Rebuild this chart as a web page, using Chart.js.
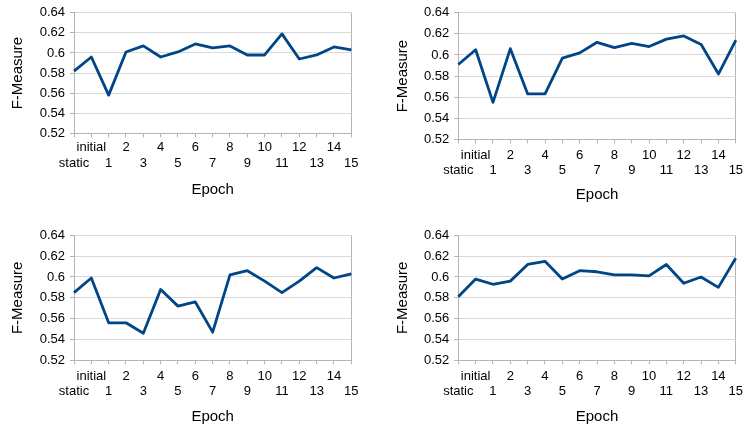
<!DOCTYPE html>
<html>
<head>
<meta charset="utf-8">
<script src="https://cdn.jsdelivr.net/npm/chart.js@4"></script>
<style>
  html, body { margin: 0; padding: 0; background: #ffffff; }
  #wrap { position: relative; width: 747px; height: 432px; overflow: hidden; }
  .panel { position: absolute; }
</style>
</head>
<body>
<div id="wrap">
  <div class="panel" style="left:0px;top:0px;width:375px;height:216px"><canvas id="c1"></canvas></div>
  <div class="panel" style="left:375px;top:0px;width:372px;height:216px"><canvas id="c2"></canvas></div>
  <div class="panel" style="left:0px;top:216px;width:375px;height:216px"><canvas id="c3"></canvas></div>
  <div class="panel" style="left:375px;top:216px;width:372px;height:216px"><canvas id="c4"></canvas></div>
</div>
<script>
// Epoch categories along the x axis
const epochs = ['static', 'initial', '1', '2', '3', '4', '5', '6', '7', '8', '9', '10', '11', '12', '13', '14', '15'];

// F-Measure per epoch, one array per panel
const fmeasureA = [0.582, 0.596, 0.558, 0.601, 0.607, 0.596, 0.601, 0.609, 0.605, 0.607, 0.598, 0.598, 0.619, 0.594, 0.598, 0.606, 0.603];
const fmeasureB = [0.591, 0.605, 0.555, 0.606, 0.563, 0.563, 0.597, 0.602, 0.612, 0.607, 0.611, 0.608, 0.615, 0.618, 0.610, 0.582, 0.614];
const fmeasureC = [0.585, 0.599, 0.556, 0.556, 0.546, 0.588, 0.572, 0.576, 0.547, 0.602, 0.606, 0.596, 0.585, 0.596, 0.609, 0.599, 0.603];
const fmeasureD = [0.581, 0.598, 0.593, 0.596, 0.612, 0.615, 0.598, 0.606, 0.605, 0.602, 0.602, 0.601, 0.612, 0.594, 0.600, 0.590, 0.618];

// y axis range and tick step
const yMin = 0.52;
const yMax = 0.64;
const yStep = 0.02;

const LINE_COLOR = '#004586';
const GRID_COLOR = '#d9d9d9';
const AXIS_COLOR = '#b3b3b3';
const TEXT_COLOR = '#000000';
const FONT = 'Liberation Sans, Arial, sans-serif';

// Two-row category labels: even indices on the lower row, odd on the upper row
function stagger(label, i) {
  return i % 2 === 0 ? ['', label] : [label];
}

function makeChart(id, values, frame) {
  const last = epochs.length - 1;
  return new Chart(document.getElementById(id), {
    type: 'line',
    data: {
      labels: epochs,
      datasets: [{
        data: values,
        borderColor: LINE_COLOR,
        borderWidth: 2.8,
        pointRadius: 0,
        tension: 0,
        fill: false,
        borderJoinStyle: 'round'
      }]
    },
    options: {
      responsive: true,
      maintainAspectRatio: false,
      animation: false,
      layout: { padding: { left: 0, top: frame.top, right: frame.right, bottom: 0 } },
      plugins: { legend: { display: false }, tooltip: { enabled: false } },
      scales: {
        x: {
          type: 'category',
          offset: false,
          afterFit: (s) => { s.height = frame.xHeight; },
          grid: {
            display: true,
            drawOnChartArea: true,
            drawTicks: true,
            tickLength: 4,
            color: (ctx) => ctx.index === last ? AXIS_COLOR : 'rgba(0,0,0,0)',
            tickColor: AXIS_COLOR,
            lineWidth: 1
          },
          border: { display: true, color: AXIS_COLOR, width: 1 },
          ticks: {
            autoSkip: false,
            maxRotation: 0,
            minRotation: 0,
            padding: frame.xPad,
            color: TEXT_COLOR,
            font: { family: FONT, size: 13, lineHeight: 1.2 },
            callback: function (value, index) { return stagger(this.getLabelForValue(value), index); }
          },
          title: {
            display: true,
            text: 'Epoch',
            color: TEXT_COLOR,
            font: { family: FONT, size: 15, lineHeight: 1.2 },
            padding: { top: 0, bottom: frame.titleBottom }
          }
        },
        y: {
          min: yMin,
          max: yMax,
          afterFit: (s) => { s.width = frame.left; },
          grid: {
            color: GRID_COLOR,
            tickColor: AXIS_COLOR,
            drawTicks: true,
            tickLength: 4,
            lineWidth: 1
          },
          border: { display: true, color: AXIS_COLOR, width: 1 },
          ticks: {
            stepSize: yStep,
            padding: 5,
            color: TEXT_COLOR,
            font: { family: FONT, size: 13 },
            callback: (v) => String(+Number(v).toFixed(2))
          },
          title: {
            display: true,
            text: 'F-Measure',
            color: TEXT_COLOR,
            font: { family: FONT, size: 15, lineHeight: 1.2 },
            padding: { top: frame.titleLeft, bottom: 0 }
          }
        }
      }
    }
  });
}

makeChart('c1', fmeasureA, { left: 74, top: 8.3, right: 23.7, xHeight: 82.7, xPad: 2.6, titleBottom: 16.7, titleLeft: 8.7 });
makeChart('c2', fmeasureB, { left: 83.3, top: 9, right: 10.7, xHeight: 76.7, xPad: 3.9, titleBottom: 11.7, titleLeft: 19 });
makeChart('c3', fmeasureC, { left: 74, top: 19.3, right: 23.7, xHeight: 71.7, xPad: 3.9, titleBottom: 5.7, titleLeft: 9 });
makeChart('c4', fmeasureD, { left: 83.3, top: 19.3, right: 11.3, xHeight: 71.7, xPad: 3.9, titleBottom: 5.7, titleLeft: 19 });
</script>
</body>
</html>
